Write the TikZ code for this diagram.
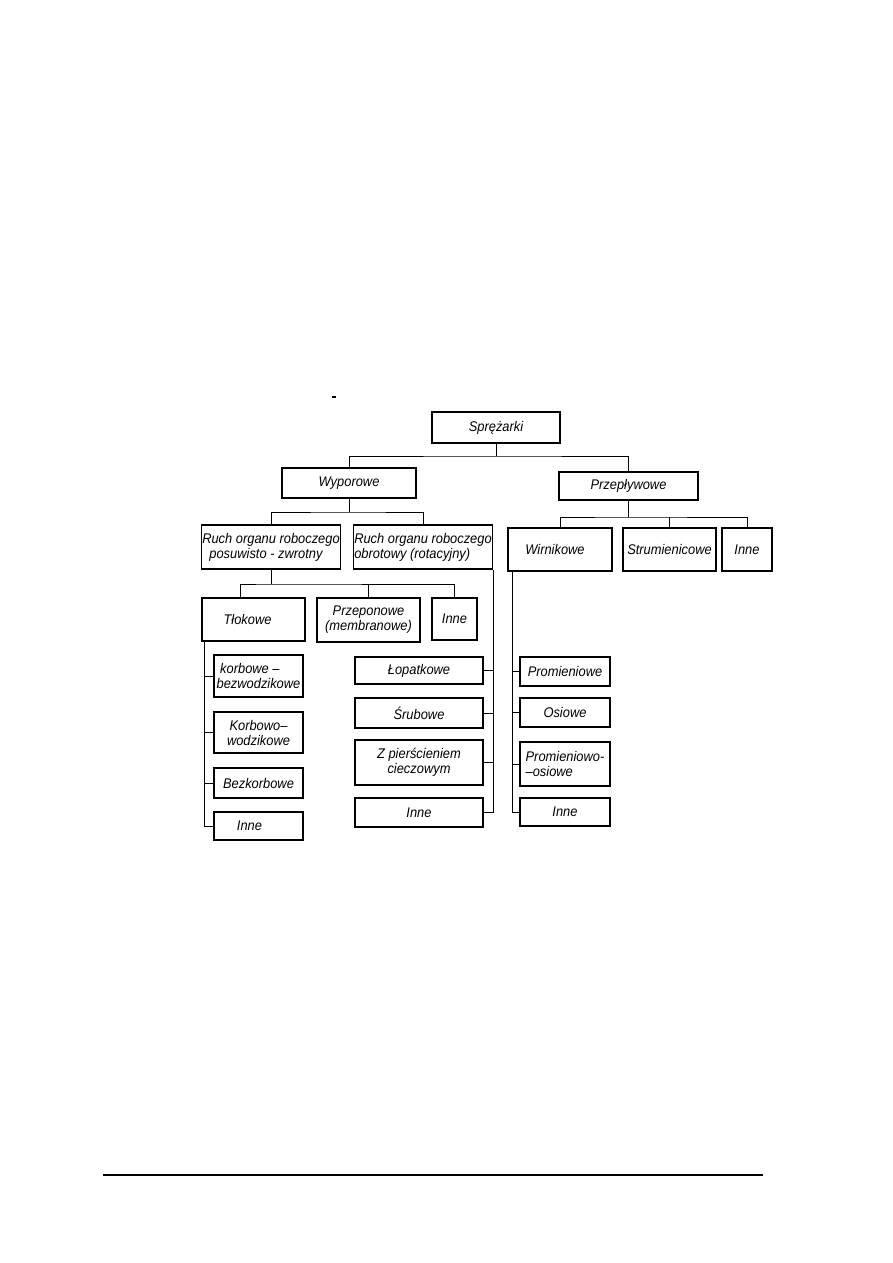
\documentclass[tikz,border=0pt]{standalone}
\usepackage{fontspec}
\setmainfont{Liberation Sans}[FakeStretch=0.92]

\tikzset{
  box/.style={draw, line width=1.1pt, inner sep=2pt, align=center,
    font=\itshape\fontsize{14}{15}\selectfont},
  lbox/.style={box, align=left, inner xsep=0.5pt},
  link/.style={line width=0.9pt}
}

\begin{document}
\begin{tikzpicture}[x=1pt, y=-1pt]
  \useasboundingbox (0,0) rectangle (893,1263);
  \node[box, minimum width=128, minimum height=31] (spr) at (496, 427.5) {Sprężarki};
  \node[box, minimum width=134, minimum height=30] (wyp) at (349, 483) {Wyporowe};
  \node[box, minimum width=139, minimum height=28] (prz) at (628.5, 486) {Przepływowe};
  \node[lbox, minimum width=138, minimum height=44] (rp) at (271, 547) {Ruch organu roboczego\\ \ \ posuwisto - zwrotny};
  \node[lbox, minimum width=136, minimum height=44] (ro) at (423, 547) {Ruch organu roboczego\\obrotowy (rotacyjny)};
  \node[box, minimum width=103, minimum height=43] (tlo) at (253.5, 619.5) {Tłokowe\hspace{12pt}};
  \node[box, minimum width=103, minimum height=44] (prn) at (368.5, 620) {Przeponowe\\(membranowe)};
  \node[box, minimum width=45, minimum height=42] (ine1) at (454.5, 619) {Inne};
  \node[box, minimum width=104, minimum height=43] (wir) at (560, 549.5) {Wirnikowe\hspace{10pt}};
  \node[box, minimum width=93, minimum height=43] (str) at (669.5, 549.5) {Strumienicowe};
  \node[box, minimum width=50, minimum height=43] (ine4) at (747, 549.5) {Inne};
  \node[lbox, minimum width=89, minimum height=42] (kb1) at (258.5, 676) {\ korbowe –\\bezwodzikowe};
  \node[box, minimum width=89, minimum height=41] (kb2) at (258.5, 732.5) {Korbowo–\\wodzikowe};
  \node[box, minimum width=89, minimum height=30] (bk) at (258.5, 783) {Bezkorbowe};
  \node[box, minimum width=89, minimum height=28] (ine2) at (258.5, 826) {Inne\hspace{18pt}};
  \node[box, minimum width=128, minimum height=27] (lop) at (419, 670.5) {Łopatkowe};
  \node[box, minimum width=128, minimum height=30] (sru) at (419, 713) {Śrubowe};
  \node[box, minimum width=128, minimum height=45] (zpc) at (419, 762.5) {Z pierścieniem\\cieczowym};
  \node[box, minimum width=128, minimum height=29] (ine3) at (419, 812.5) {Inne};
  \node[box, minimum width=90, minimum height=29] (pro) at (565, 671.5) {Promieniowe};
  \node[box, minimum width=90, minimum height=29] (osi) at (565, 712.5) {Osiowe};
  \node[lbox, minimum width=90, minimum height=44] (pro2) at (565, 764) {Promieniowo-\\–osiowe};
  \node[box, minimum width=90, minimum height=28] (ine5) at (565, 812) {Inne};
  \coordinate (j1) at (496, 456);
  \coordinate (j2) at (349, 512);
  \coordinate (j3) at (271, 584);
  \coordinate (j4) at (628.5, 517);
  \draw[link] (spr.south) -- (j1) (wyp.north) |- (j1) -| (prz.north) (wyp.south) -- (j2) (rp.north) |- (j2) -| (ro.north) (rp.south) -- (j3) ([xshift=-13.5pt]tlo.north) |- (j3) -| (ine1.north) (prn.north) -- (prn.north |- j3) (prz.south) -- (j4) (wir.north) |- (j4) -| (ine4.north) (str.north) -- (str.north |- j4);
  \draw[link] ([xshift=3pt]tlo.south west) |- (kb1.west) ([xshift=3pt]tlo.south west) |- (kb2.west) ([xshift=3pt]tlo.south west) |- (bk.west) ([xshift=3pt]tlo.south west) |- (ine2.west);
  \draw[link] ([xshift=1pt]ro.south east) |- (lop.east) ([xshift=1pt]ro.south east) |- (sru.east) ([xshift=1pt]ro.south east) |- (zpc.east) ([xshift=1pt]ro.south east) |- (ine3.east);
  \draw[link] ([xshift=5pt]wir.south west) |- (pro.west) ([xshift=5pt]wir.south west) |- (osi.west) ([xshift=5pt]wir.south west) |- (pro2.west) ([xshift=5pt]wir.south west) |- (ine5.west);
  \fill (332, 396) rectangle (336, 398);
  \draw[line width=1.4pt] (103, 1175) -- (763, 1175);
\end{tikzpicture}
\end{document}
